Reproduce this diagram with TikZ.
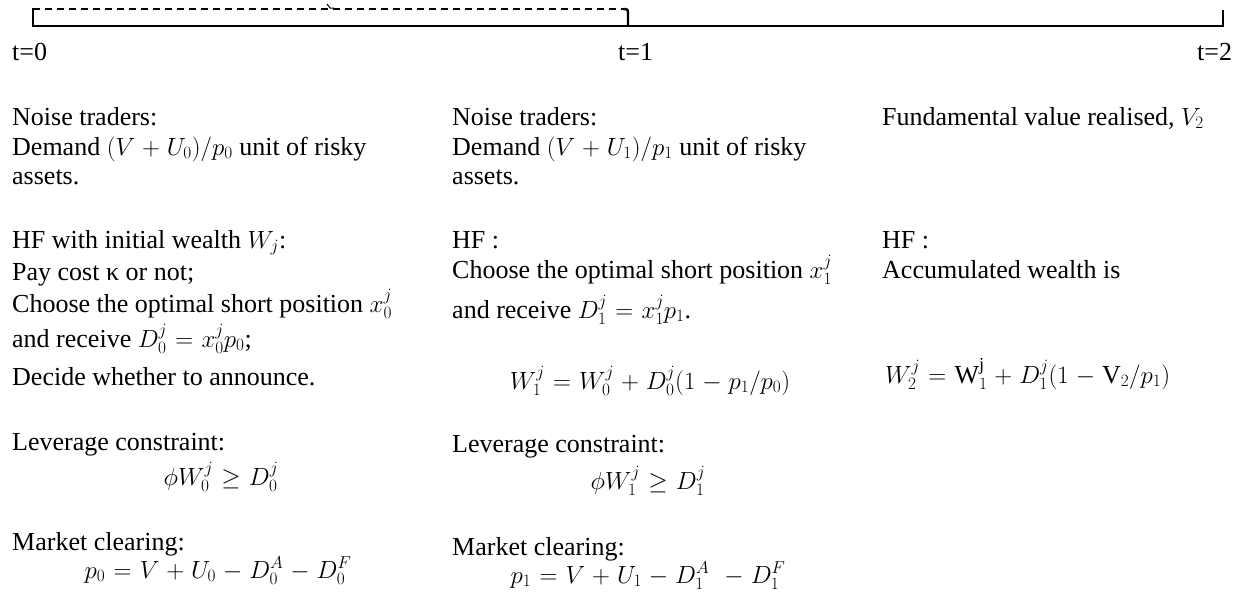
\documentclass[tikz,border=0pt]{standalone}
\usepackage{amsmath}
\usepackage{fontspec}
\setmainfont{Liberation Serif}
\medmuskip=5mu plus 2mu minus 4mu
\thickmuskip=6mu plus 5mu
\newcommand{\up}[1]{\text{\rmfamily\upshape #1}}
\begin{document}
\begin{tikzpicture}[x=1pt,y=-1pt,
  txt/.style={inner sep=0pt, anchor=base west, font=\fontsize{26}{30}\selectfont},
  ctr/.style={txt, anchor=base},
  solidline/.style={line width=2.4pt, line cap=rect},
  dashline/.style={line width=1.8pt, dash pattern=on 7pt off 5pt}]
\useasboundingbox (0,0) rectangle (1244,592);
% timeline
\coordinate (L0) at (33,9);
\coordinate (L1) at (33,26);
\coordinate (M0) at (623,9);
\coordinate (M1) at (628,15);
\coordinate (M2) at (628,26);
\coordinate (R0) at (1223,11);
\coordinate (R1) at (1223,26);
\draw[solidline] (L0) -- (L1) -- (R1) -- (R0);
\draw[dashline] (L0) -- (M0);
\draw[solidline, line cap=butt] (M0) .. controls (628,9) .. (M1) -- (M2);
\coordinate (K0) at (327,4);
\coordinate (K1) at (330,8);
\draw[line width=1pt] (K0) -- (K1) -- (334,8);
\node[txt] (t0) at (12,60) {t=0};
\node[txt] (t1) at (618,60) {t=1};
\node[txt] (t2) at (1197,60) {t=2};
% column 1
\node[txt] (a1) at (12,125) {Noise traders:};
\node[txt] (a2) at (12,155) {Demand $(V+U_0)/p_0$ unit of risky};
\node[txt] (a3) at (12,184) {assets.};
\node[txt] (a4) at (12,248) {HF with initial wealth $W_j$:};
\node[txt] (a5) at (12,280) {Pay cost κ or not;};
\node[txt] (a6) at (12,312) {Choose the optimal short position $x_0^j$};
\node[txt] (a7) at (12,347) {and receive $D_0^j=x_0^jp_0$;};
\node[txt] (a8) at (12,385) {Decide whether to announce.};
\node[txt] (a9) at (12,450) {Leverage constraint:};
\node[ctr] (a10) at (221,485) {$\phi W_0^j \ge D_0^j$};
\node[txt] (a11) at (12,550) {Market clearing:};
\node[ctr] (a12) at (218,578) {$p_0=V+U_0-D_0^A-D_0^F$};
% column 2
\node[txt] (b1) at (452,125) {Noise traders:};
\node[txt] (b2) at (452,155) {Demand $(V+U_1)/p_1$ unit of risky};
\node[txt] (b3) at (452,184) {assets.};
\node[txt] (b4) at (452,248) {HF :};
\node[txt] (b5) at (452,278) {Choose the optimal short position $x_1^j$};
\node[txt] (b6) at (452,318) {and receive $D_1^j=x_1^jp_1$.};
\node[ctr] (b7) at (650,389) {$W_1^j=W_0^j+D_0^j(1-p_1/p_0)$};
\node[txt] (b8) at (452,452) {Leverage constraint:};
\node[ctr] (b9) at (648,489) {$\phi W_1^j \ge D_1^j$};
\node[txt] (b10) at (452,555) {Market clearing:};
\node[ctr] (b11) at (648,583) {$p_1=V+U_1-D_1^A\;-D_1^F$};
% column 3
\node[txt] (c1) at (882,125) {Fundamental value realised, $V_2$};
\node[txt] (c2) at (882,248) {HF :};
\node[txt] (c3) at (882,278) {Accumulated wealth is};
\node[txt] (c4) at (885,383) {$W_2^j=\up{W}_1^{\up{j}}+D_1^j(1-\up{V}_2/p_1)$};
\end{tikzpicture}
\end{document}
